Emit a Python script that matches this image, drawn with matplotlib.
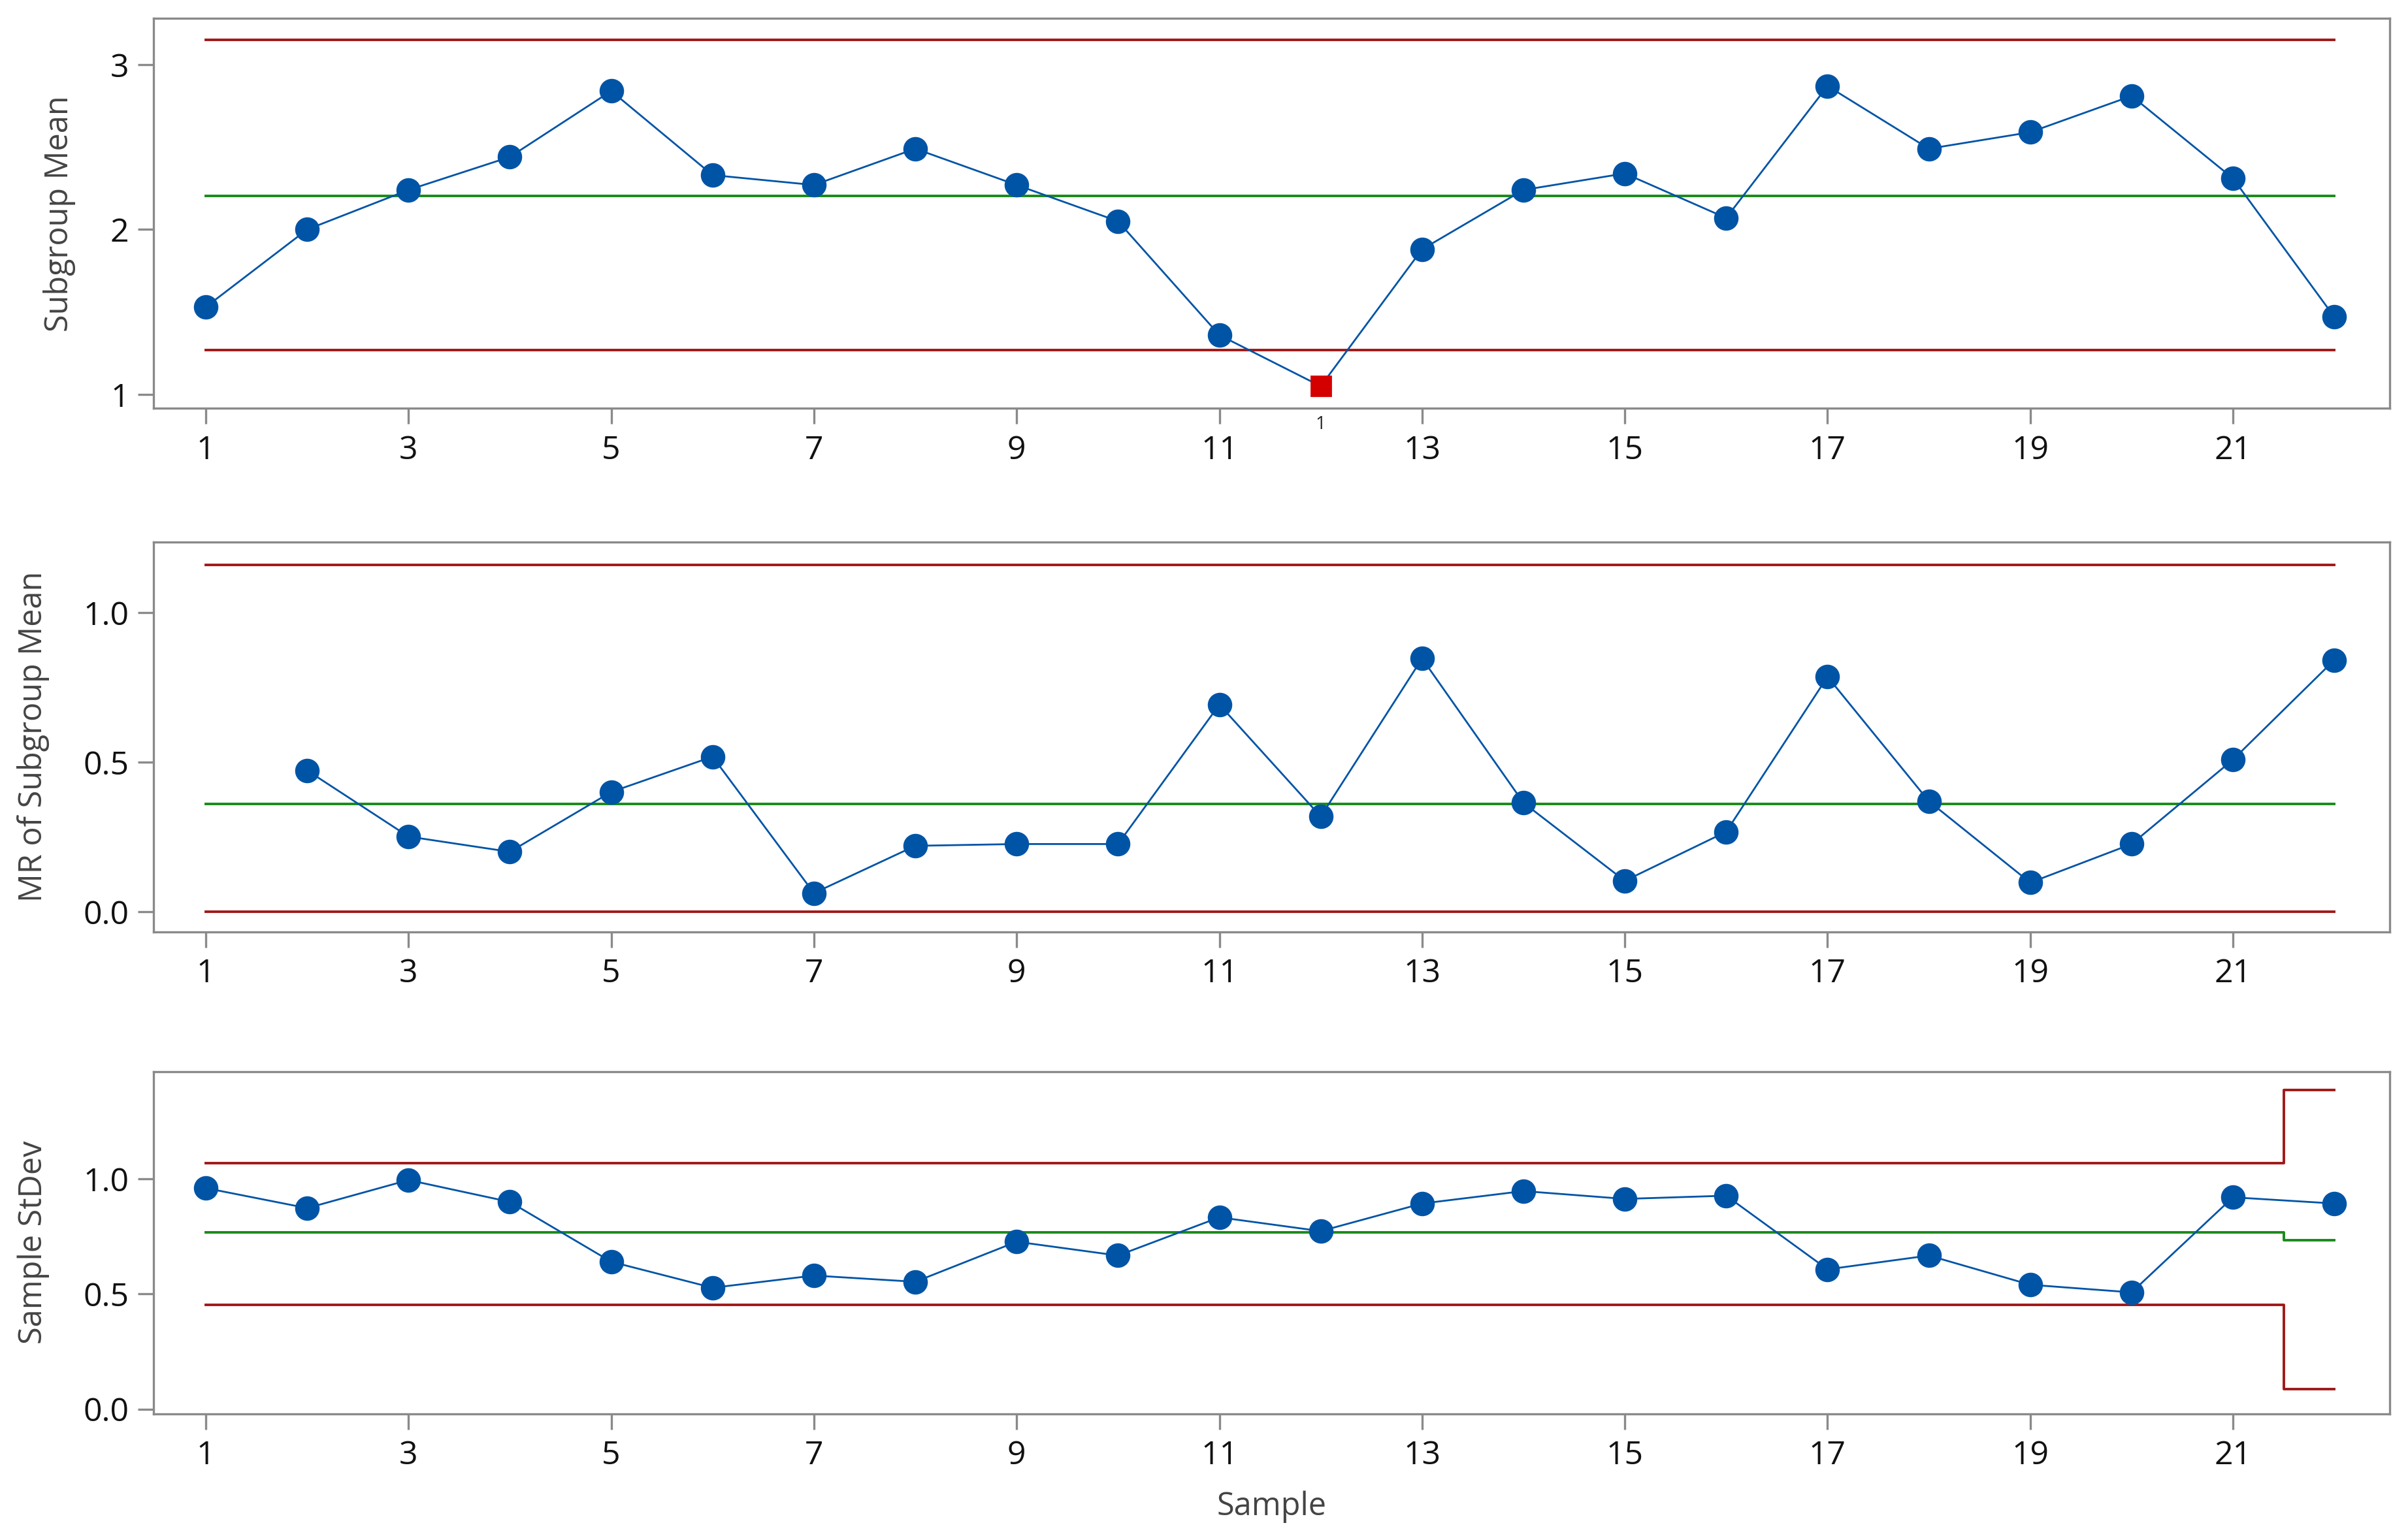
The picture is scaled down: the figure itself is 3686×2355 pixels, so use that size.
import numpy as np
import matplotlib
matplotlib.use("Agg")
import matplotlib.pyplot as plt

plt.rcParams['font.family'] = ['Open Sans', 'DejaVu Sans']

samples = list(range(1, 23))

subgroup_mean = [1.53, 2.00, 2.24, 2.44, 2.84, 2.33, 2.27, 2.49, 2.27, 2.05, 1.36,
                 1.05, 1.88, 2.24, 2.34, 2.07, 2.87, 2.49, 2.59, 2.81, 2.31, 1.47]
mean_ucl, mean_cl, mean_lcl = 3.149, 2.205, 1.270
mean_flagged = [12]
mean_flag_label = "1"

mr_samples = list(range(2, 23))
mr_values = [0.472, 0.251, 0.200, 0.400, 0.518, 0.062, 0.220, 0.226, 0.226, 0.692,
             0.318, 0.846, 0.364, 0.103, 0.267, 0.785, 0.369, 0.097, 0.226, 0.508, 0.841]
mr_ucl, mr_cl, mr_lcl = 1.159, 0.359, 0.0

sample_stdev = [0.960, 0.873, 0.995, 0.900, 0.640, 0.527, 0.580, 0.553, 0.727, 0.667, 0.833,
                0.773, 0.893, 0.947, 0.913, 0.927, 0.607, 0.667, 0.540, 0.507, 0.920, 0.893]
sd_ucl = [1.067] * 21 + [1.387]
sd_cl = [0.767] * 21 + [0.733]
sd_lcl = [0.453] * 21 + [0.087]

ylabels = ["Subgroup Mean", "MR of Subgroup Mean", "Sample StDev"]
xlabel = "Sample"
xticks = list(range(1, 23, 2))

BLUE = "#0054A6"
RED_LINE = "#A01818"
GREEN = "#1A8A1A"
RED_PT = "#D40000"
SPINE = "#8A8A8A"

W, H = 3686, 2355
DPI = 200
fig = plt.figure(figsize=(W / DPI, H / DPI), dpi=DPI)

def fy(px):
    return 1 - px / 1002.0

left = 100 / 1568.0
width = (1556 - 100) / 1568.0
boxes = [(12, 266), (353, 607), (698, 921)]
axes = []
for top, bot in boxes:
    ax = fig.add_axes([left, fy(bot), width, fy(top) - fy(bot)])
    axes.append(ax)

line_kw = dict(color=BLUE, lw=1.0, zorder=3)
mk_kw = dict(marker='o', ms=12.5, color=BLUE, ls='none', zorder=4)
lim_kw = dict(lw=1.4, zorder=2)

# Top: subgroup mean
ax = axes[0]
ax.plot(samples, [mean_ucl] * len(samples), color=RED_LINE, **lim_kw)
ax.plot(samples, [mean_cl] * len(samples), color=GREEN, **lim_kw)
ax.plot(samples, [mean_lcl] * len(samples), color=RED_LINE, **lim_kw)
ax.plot(samples, subgroup_mean, **line_kw)
ok_x = [s for s in samples if s not in mean_flagged]
ok_y = [v for s, v in zip(samples, subgroup_mean) if s not in mean_flagged]
fl_x = [s for s in samples if s in mean_flagged]
fl_y = [v for s, v in zip(samples, subgroup_mean) if s in mean_flagged]
ax.plot(ok_x, ok_y, **mk_kw)
ax.plot(fl_x, fl_y, marker='s', ms=11, color=RED_PT, ls='none', zorder=5)
for x in fl_x:
    ax.annotate(mean_flag_label, xy=(x, 0), xycoords=('data', 'axes fraction'),
                xytext=(0, -4), textcoords='offset points', ha='center', va='top',
                fontsize=10, color='#222222')
ax.set_ylim(0.916, 3.28)
ax.set_yticks([1, 2, 3])
ax.set_yticklabels(["1", "2", "3"])

# Middle: MR
ax = axes[1]
ax.plot(samples, [mr_ucl] * len(samples), color=RED_LINE, **lim_kw)
ax.plot(samples, [mr_cl] * len(samples), color=GREEN, **lim_kw)
ax.plot(samples, [mr_lcl] * len(samples), color=RED_LINE, **lim_kw)
ax.plot(mr_samples, mr_values, **line_kw)
ax.plot(mr_samples, mr_values, **mk_kw)
ax.set_ylim(-0.067, 1.236)
ax.set_yticks([0.0, 0.5, 1.0])
ax.set_yticklabels(["0.0", "0.5", "1.0"])

# Bottom: stdev
ax = axes[2]
ax.plot(samples, sd_ucl, color=RED_LINE, drawstyle='steps-mid', **lim_kw)
ax.plot(samples, sd_cl, color=GREEN, drawstyle='steps-mid', **lim_kw)
ax.plot(samples, sd_lcl, color=RED_LINE, drawstyle='steps-mid', **lim_kw)
ax.plot(samples, sample_stdev, **line_kw)
ax.plot(samples, sample_stdev, **mk_kw)
ax.set_ylim(-0.02, 1.467)
ax.set_yticks([0.0, 0.5, 1.0])
ax.set_yticklabels(["0.0", "0.5", "1.0"])
ax.set_xlabel(xlabel, fontsize=17.5, color='#444444', labelpad=10)

label_x = [-0.0348, -0.0465, -0.0465]
for ax, lab, lx in zip(axes, ylabels, label_x):
    ax.set_xlim(0.485, 22.545)
    ax.set_xticks(xticks)
    ax.set_xticklabels([str(t) for t in xticks])
    for sp in ax.spines.values():
        sp.set_color(SPINE)
        sp.set_linewidth(1.2)
    ax.tick_params(axis='both', direction='out', length=8.5, width=1.2, color=SPINE,
                   labelsize=18, labelcolor='#111111')
    ax.tick_params(axis='x', pad=6)
    ax.tick_params(axis='y', pad=5)
    ax.set_ylabel(lab, fontsize=17.5, color='#444444')
    ax.yaxis.set_label_coords(lx, 0.5)

fig.savefig("out.png", dpi=DPI)
